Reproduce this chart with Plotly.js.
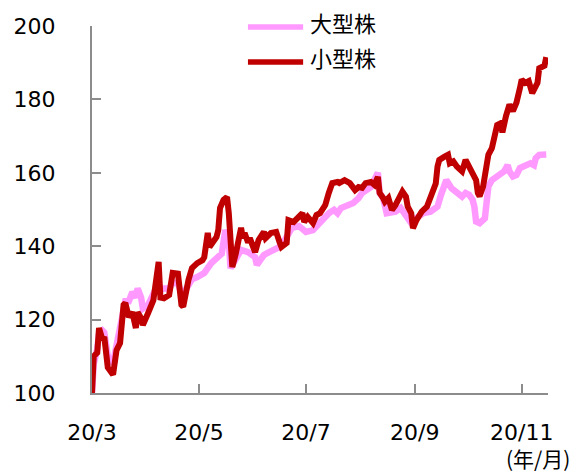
<!DOCTYPE html>
<html>
<head>
<meta charset="utf-8">
<script src="https://cdn.plot.ly/plotly-3.0.1.min.js"></script>
<style>
html,body{margin:0;padding:0;background:#fff;}
#chart{width:577px;height:476px;}
</style>
</head>
<body>
<div id="chart"></div>
<script>
// Series names
const seriesNames = ['大型株', '小型株'];

// Tick labels
const xTickDates = ['2020-03-19', '2020-05-19', '2020-07-19', '2020-09-19', '2020-11-19'];
const xTickLabels = ['20/3', '20/5', '20/7', '20/9', '20/11'];
const unitLabel = '(年/月)';

// 小型株 (small cap)
const smallDates = [
'2020-03-19','2020-03-20','2020-03-22','2020-03-23','2020-03-25','2020-03-26','2020-03-28','2020-03-31',
'2020-04-02','2020-04-04','2020-04-06','2020-04-07','2020-04-09','2020-04-11','2020-04-13','2020-04-14',
'2020-04-16','2020-04-17','2020-04-20','2020-04-23','2020-04-26','2020-04-27','2020-04-29',
'2020-05-02','2020-05-04','2020-05-07','2020-05-09','2020-05-10','2020-05-13','2020-05-15','2020-05-18',
'2020-05-21','2020-05-22','2020-05-24','2020-05-25','2020-05-27','2020-05-29','2020-05-30','2020-05-31',
'2020-06-02','2020-06-04','2020-06-05','2020-06-06','2020-06-07','2020-06-09','2020-06-10','2020-06-12',
'2020-06-13','2020-06-14','2020-06-16','2020-06-17','2020-06-20','2020-06-22','2020-06-25','2020-06-26','2020-06-29',
'2020-07-02','2020-07-04','2020-07-05','2020-07-08','2020-07-09','2020-07-12','2020-07-15','2020-07-17',
'2020-07-18','2020-07-20','2020-07-23','2020-07-25','2020-07-27','2020-07-30',
'2020-08-01','2020-08-03','2020-08-06','2020-08-07','2020-08-10','2020-08-13','2020-08-16','2020-08-18',
'2020-08-20','2020-08-22','2020-08-25','2020-08-27','2020-08-29','2020-08-30',
'2020-09-01','2020-09-02','2020-09-04','2020-09-06','2020-09-08','2020-09-10','2020-09-12','2020-09-14',
'2020-09-15','2020-09-17','2020-09-18','2020-09-20','2020-09-23','2020-09-26','2020-09-29',
'2020-10-01','2020-10-02','2020-10-03','2020-10-06','2020-10-08','2020-10-09','2020-10-11','2020-10-13',
'2020-10-16','2020-10-18','2020-10-20','2020-10-22','2020-10-24','2020-10-25','2020-10-26','2020-10-28',
'2020-10-29','2020-10-30','2020-10-31',
'2020-11-02','2020-11-04','2020-11-05','2020-11-07','2020-11-08','2020-11-10','2020-11-11','2020-11-12',
'2020-11-14','2020-11-16','2020-11-18','2020-11-19','2020-11-21','2020-11-23','2020-11-25','2020-11-27',
'2020-11-28','2020-11-29','2020-12-01','2020-12-02','2020-12-03'
];
const smallValues = [
100,110,111,117.7,114.5,115.3,107,105,
111.7,113.6,124,124.5,120.7,122,117.7,122,
120.4,118.5,121.8,125.3,135.7,126,125.8,
126.7,132.7,132.5,124,123.5,130.8,134,135.4,
136.2,137,143.6,139.8,141,142.5,144.4,150.4,
152.6,153.4,149,139.8,134.3,138,139.8,145,
142.2,143.6,141,142.2,138.4,141.7,143.9,142.2,143.6,
143.9,141,139.8,140.9,147.1,146.6,148,149,
146.6,148,146.3,148.5,149,151.2,
154.5,157.2,157.5,157.2,158,157.2,155.3,156.1,
155.9,157.2,157.5,156.7,158.9,154.5,
153.1,152.1,153.1,149.9,151.2,153.5,154.9,153.5,
150.8,149,144.9,147.1,149.4,150.8,154.9,
157.1,161.7,163.5,164.4,164.9,162.6,163.1,161.7,
160.4,163.5,161.7,160.4,158,154.5,153.6,156.3,
159.4,161.7,164.9,
166.7,170.8,173,173.5,171,175.4,178.1,178.6,
176.8,179.1,183.1,185.4,184.5,185,181.7,183.5,
184.5,188.5,189,189.2,191.5
];

// 大型株 (large cap)
const largeDates = [
'2020-03-19','2020-03-20','2020-03-22','2020-03-23','2020-03-25','2020-03-26','2020-03-28','2020-03-31',
'2020-04-02','2020-04-04','2020-04-06','2020-04-07','2020-04-09','2020-04-11','2020-04-13','2020-04-14',
'2020-04-16','2020-04-17','2020-04-20','2020-04-23','2020-04-26','2020-04-27','2020-04-29',
'2020-05-02','2020-05-04','2020-05-07','2020-05-09','2020-05-10','2020-05-13','2020-05-15','2020-05-18',
'2020-05-22','2020-05-26','2020-05-29',
'2020-06-01','2020-06-03','2020-06-05','2020-06-06','2020-06-09','2020-06-12','2020-06-16','2020-06-20',
'2020-06-21','2020-06-25','2020-06-28',
'2020-07-04','2020-07-07','2020-07-11','2020-07-15','2020-07-19','2020-07-23','2020-07-27',
'2020-08-01','2020-08-04','2020-08-06','2020-08-08','2020-08-12','2020-08-15','2020-08-18','2020-08-20',
'2020-08-25','2020-08-27','2020-08-29','2020-08-30',
'2020-09-01','2020-09-03','2020-09-08','2020-09-11','2020-09-14','2020-09-17','2020-09-20','2020-09-24','2020-09-28',
'2020-10-02','2020-10-04','2020-10-07','2020-10-10','2020-10-13','2020-10-16','2020-10-18','2020-10-20',
'2020-10-22','2020-10-23','2020-10-24','2020-10-26','2020-10-29','2020-10-30','2020-10-31',
'2020-11-02','2020-11-05','2020-11-07','2020-11-09','2020-11-11','2020-11-12','2020-11-14','2020-11-16',
'2020-11-18','2020-11-20','2020-11-22','2020-11-24','2020-11-26','2020-11-27','2020-11-29',
'2020-12-02','2020-12-03'
];
const largeValues = [
100,108,112,116,117,116.5,110,108,
113,118,124,125,125,127.5,126,128.5,
126,123,124,127,130,128,128.5,
128.5,130,130,127,127,130,131,131.6,
132.7,135.4,136.8,
138,144.4,141.7,134,136.8,139,138.4,137,
134.9,137.6,138.4,
139.8,141.7,145,145.5,143.9,144.4,146.6,
149,149.9,149,150.4,151.2,151.8,153.1,154.5,
156.1,158.6,160,154.5,
153.1,149,149.4,150.4,148.5,146.3,147.7,149,149.4,
150.8,154,158,155.8,154.5,153.5,154.5,154,
152.7,150.8,146.7,146.3,147.6,152.7,156.3,
158,159,159.4,160.4,162.1,160.4,159,159.4,
161.3,161.7,162.1,162.6,162.1,164,164.9,
165.1,165
];

const seriesColors = ['#FF99FF', '#C00000'];

const traces = [
  {x: largeDates, y: largeValues, name: seriesNames[0], type: 'scatter', mode: 'lines',
   line: {color: seriesColors[0], width: 6.5}},
  {x: smallDates, y: smallValues, name: seriesNames[1], type: 'scatter', mode: 'lines',
   line: {color: seriesColors[1], width: 6}}
];

const tickFont = {family: 'DejaVu Sans, Verdana, sans-serif', size: 22, color: '#000'};
const cjkFont = {family: 'Noto Sans CJK JP, sans-serif', size: 22, color: '#000'};

const layout = {
  width: 577, height: 476,
  margin: {l: 92, r: 29, t: 26, b: 83},
  paper_bgcolor: '#fff', plot_bgcolor: '#fff',
  showlegend: false,
  xaxis: {
    type: 'date', range: ['2020-03-19', '2020-12-04'],
    tickmode: 'array', tickvals: xTickDates, ticktext: xTickLabels,
    ticks: 'inside', ticklen: 9, tickwidth: 2, tickcolor: '#8c8c8c',
    showline: true, linecolor: '#8c8c8c', linewidth: 2,
    showgrid: false, zeroline: false,
    tickfont: tickFont, ticklabelstandoff: 19
  },
  yaxis: {
    range: [100, 200], tick0: 100, dtick: 20,
    ticks: 'inside', ticklen: 9, tickwidth: 2, tickcolor: '#8c8c8c',
    showline: true, linecolor: '#8c8c8c', linewidth: 2,
    showgrid: false, zeroline: false,
    tickfont: tickFont, ticklabelstandoff: 30
  },
  shapes: [
    {type: 'line', xref: 'paper', yref: 'paper', x0: 0.342, x1: 0.463, y0: 0.997, y1: 0.997,
     line: {color: seriesColors[0], width: 5.5}},
    {type: 'line', xref: 'paper', yref: 'paper', x0: 0.342, x1: 0.463, y0: 0.902, y1: 0.902,
     line: {color: seriesColors[1], width: 5.5}}
  ],
  annotations: [
    {xref: 'paper', yref: 'paper', x: 0.474, y: 1.01, xanchor: 'left', yanchor: 'middle',
     text: seriesNames[0], showarrow: false, font: cjkFont},
    {xref: 'paper', yref: 'paper', x: 0.474, y: 0.915, xanchor: 'left', yanchor: 'middle',
     text: seriesNames[1], showarrow: false, font: cjkFont},
    {xref: 'paper', yref: 'paper', x: 1.052, y: -0.178, xanchor: 'right', yanchor: 'middle',
     text: unitLabel, showarrow: false, font: {family: 'Noto Sans CJK JP, sans-serif', size: 21, color: '#000'}}
  ]
};

Plotly.newPlot('chart', traces, layout, {staticPlot: true, displayModeBar: false});
</script>
</body>
</html>
